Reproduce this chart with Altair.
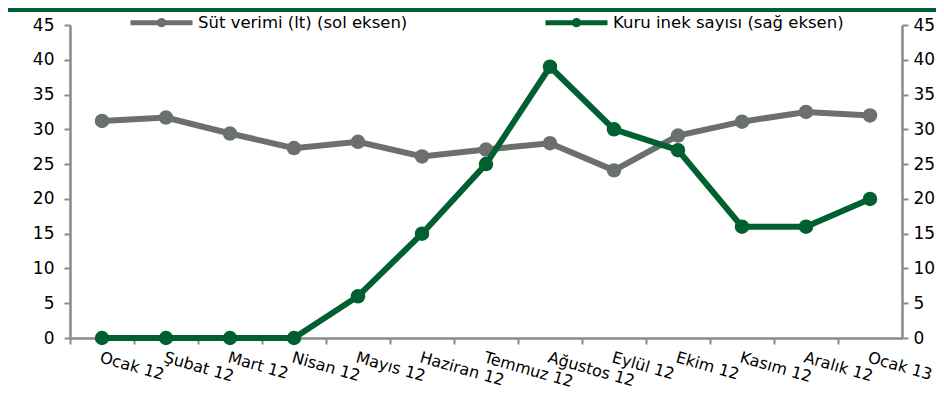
import altair as alt
import pandas as pd

months = ["Ocak 12", "Şubat 12", "Mart 12", "Nisan 12", "Mayıs 12", "Haziran 12",
          "Temmuz 12", "Ağustos 12", "Eylül 12", "Ekim 12", "Kasım 12", "Aralık 12", "Ocak 13"]
sut_verimi = [31.2, 31.7, 29.4, 27.3, 28.2, 26.1, 27.1, 28.0, 24.1, 29.1, 31.1, 32.5, 32.0]
kuru_inek = [0, 0, 0, 0, 6, 15, 25, 39, 30, 27, 16, 16, 20]

s1 = "Süt verimi (lt) (sol eksen)"
s2 = "Kuru inek sayısı (sağ eksen)"
GRAY = "#6b706d"
GREEN = "#00602f"
AXIS_GRAY = "#8a8a8a"
FONT = "DejaVu Sans"

df = pd.DataFrame({
    "month": months * 2,
    "series": [s1] * len(months) + [s2] * len(months),
    "value": sut_verimi + kuru_inek,
})

x_enc = alt.X("month:N", sort=months,
              scale=alt.Scale(type="point", padding=0.5),
              axis=alt.Axis(title=None, labelAngle=16, labelAlign="left", labelBaseline="top",
                            tickOffset=-32, labelOffset=32, tickSize=6, labelPadding=5,
                            domainColor=AXIS_GRAY, domainWidth=2.5, tickColor=AXIS_GRAY,
                            tickWidth=2, labelFont=FONT, labelFontSize=16, labelColor="#000",
                            grid=False, labelOverlap=False, labelLimit=0))

color_enc = alt.Color("series:N",
                      scale=alt.Scale(domain=[s1, s2], range=[GRAY, GREEN]),
                      legend=alt.Legend(title=None, orient="none", direction="horizontal",
                                        legendX=58, legendY=-36,
                                        symbolType="M-1,0L1,0M0.07,0A0.07,0.07,0,1,1,-0.07,0A0.07,0.07,0,1,1,0.07,0",
                                        symbolSize=3844, symbolStrokeWidth=5,
                                        labelFont=FONT, labelFontSize=16.5, labelColor="#000",
                                        labelOffset=3, columnPadding=127, labelLimit=0))

def yaxis(orient, pad):
    return alt.Axis(title=None, orient=orient, values=list(range(0, 50, 5)), tickSize=6,
                    labelPadding=pad, domainColor=AXIS_GRAY, domainWidth=2.5,
                    tickColor=AXIS_GRAY, tickWidth=2, labelFont=FONT, labelFontSize=17,
                    labelColor="#000", grid=False)

base = alt.Chart(df)

gray = base.transform_filter(alt.datum.series == s1).mark_line(
    strokeWidth=6, point=alt.OverlayMarkDef(filled=True, size=210, opacity=1)
).encode(
    x=x_enc,
    y=alt.Y("value:Q", scale=alt.Scale(domain=[0, 45], nice=False), axis=yaxis("left", 10)),
    color=color_enc,
)

green = base.transform_filter(alt.datum.series == s2).mark_line(
    strokeWidth=6, point=alt.OverlayMarkDef(filled=True, size=210, opacity=1)
).encode(
    x=x_enc,
    y=alt.Y("value:Q", scale=alt.Scale(domain=[0, 45], nice=False), axis=yaxis("right", 5)),
    color=color_enc,
)

topbar = alt.Chart(alt.Data(values=[{}])).mark_rule(color=GREEN, strokeWidth=4, clip=False).encode(
    x=alt.value(-62), x2=alt.value(870), y=alt.value(-15)
)

chart = alt.layer(gray, green, topbar).resolve_scale(y="independent").properties(
    width=832, height=313,
    autosize=alt.AutoSizeParams(type="none"),
    padding={"left": 62, "top": 17, "right": 34, "bottom": 55},
).configure_view(stroke=None)

chart.save("out.html", embed_options={"renderer": "svg", "actions": False})
